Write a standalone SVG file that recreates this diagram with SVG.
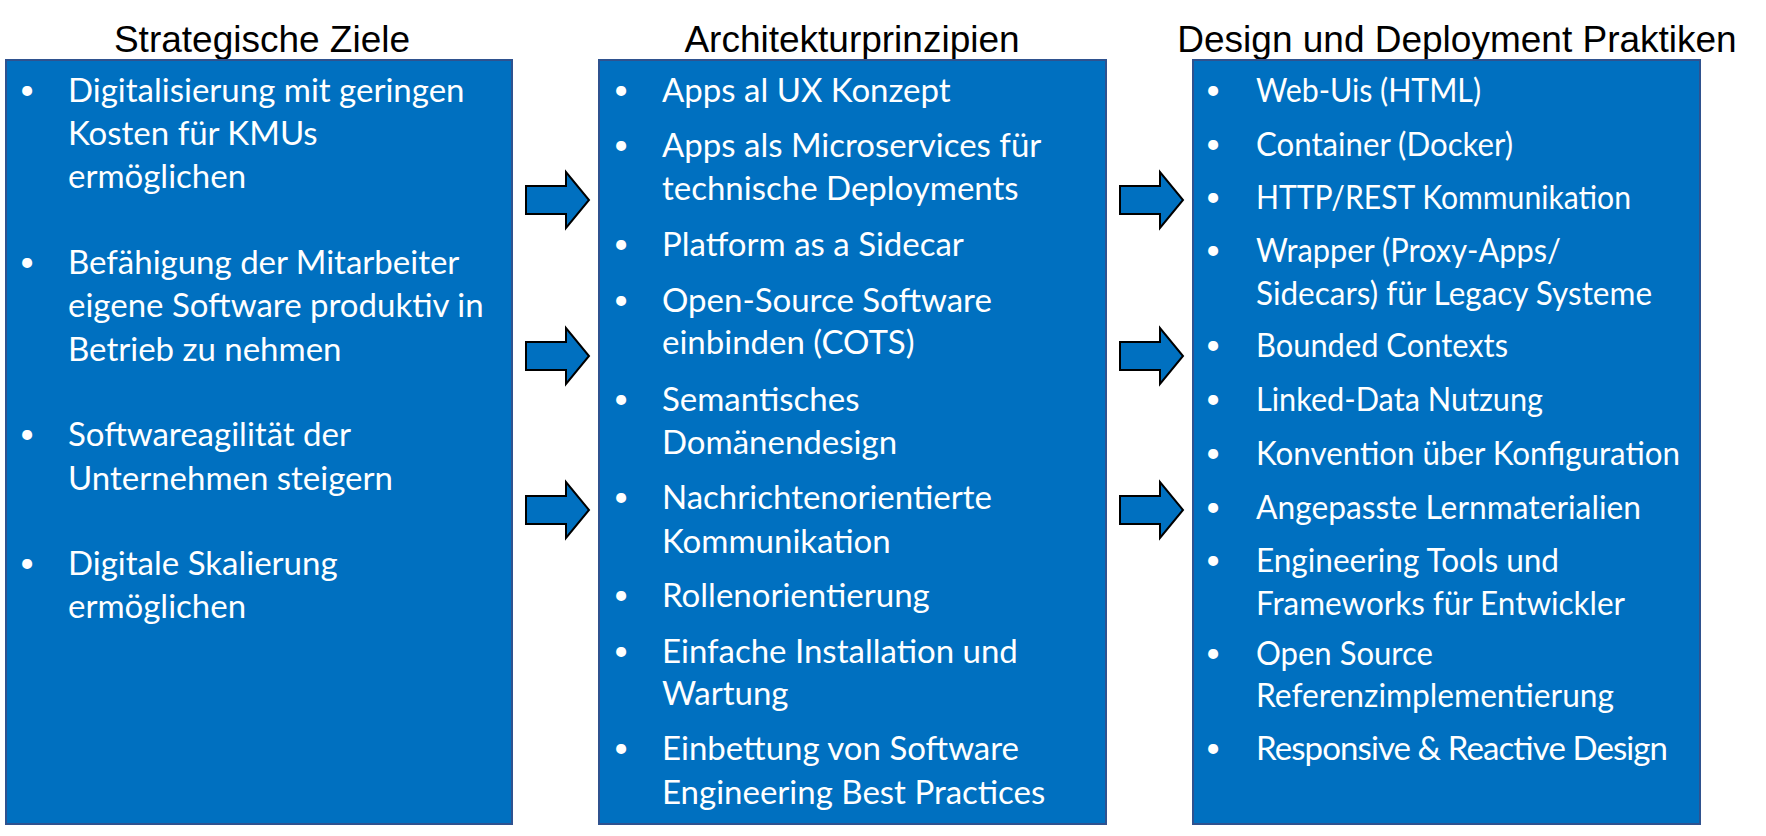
<svg xmlns="http://www.w3.org/2000/svg" width="1766" height="836" viewBox="0 0 1766 836">
<style>
.title{font-family:"Liberation Sans",Arial,sans-serif;font-size:37px;fill:#000;text-anchor:middle}
.box{fill:#0070C0;stroke:#2F528F;stroke-width:2}
.t{font-family:Lato,"Noto Sans",sans-serif;font-size:33px;fill:#fff}
.b{font-size:27px;text-anchor:middle}
.arrow{fill:#0070C0;stroke:#000;stroke-width:2;stroke-linejoin:miter}
</style>
<defs>
<path id="arr" d="M0,-14 L40,-14 L40,-28 L63,0 L40,28 L40,14 L0,14 Z"/>
</defs>
<g id="col1">
<text class="title" x="262" y="52">Strategische Ziele</text>
<rect class="box" x="6" y="60" width="506" height="764"/>
<g class="t">
<text class="b" x="27" y="99">•</text><text x="68" y="102">Digitalisierung mit geringen</text>
<text x="68" y="145">Kosten für KMUs</text>
<text x="68" y="188">ermöglichen</text>
<text class="b" x="27" y="271">•</text><text x="68" y="274">Befähigung der Mitarbeiter</text>
<text x="68" y="317">eigene Software produktiv in</text>
<text x="68" y="361">Betrieb zu nehmen</text>
<text class="b" x="27" y="443">•</text><text x="68" y="446">Softwareagilität der</text>
<text x="68" y="490">Unternehmen steigern</text>
<text class="b" x="27" y="572">•</text><text x="68" y="575">Digitale Skalierung</text>
<text x="68" y="618">ermöglichen</text>
</g>
</g>
<g id="col2">
<text class="title" x="852" y="52">Architekturprinzipien</text>
<rect class="box" x="599" y="60" width="507" height="764"/>
<g class="t">
<text class="b" x="621" y="99">•</text><text x="662" y="102">Apps al UX Konzept</text>
<text class="b" x="621" y="154">•</text><text x="662" y="157">Apps als Microservices für</text>
<text x="662" y="200">technische Deployments</text>
<text class="b" x="621" y="253">•</text><text x="662" y="256">Platform as a Sidecar</text>
<text class="b" x="621" y="309">•</text><text x="662" y="312">Open-Source Software</text>
<text x="662" y="354">einbinden (COTS)</text>
<text class="b" x="621" y="408">•</text><text x="662" y="411">Semantisches</text>
<text x="662" y="454">Domänendesign</text>
<text class="b" x="621" y="506">•</text><text x="662" y="509">Nachrichtenorientierte</text>
<text x="662" y="553">Kommunikation</text>
<text class="b" x="621" y="604">•</text><text x="662" y="607">Rollenorientierung</text>
<text class="b" x="621" y="660">•</text><text x="662" y="663">Einfache Installation und</text>
<text x="662" y="705">Wartung</text>
<text class="b" x="621" y="757">•</text><text x="662" y="760">Einbettung von Software</text>
<text x="662" y="804">Engineering Best Practices</text>
</g>
</g>
<g id="col3">
<text class="title" x="1457" y="52">Design und Deployment Praktiken</text>
<rect class="box" x="1193" y="60" width="507" height="764"/>
<g class="t">
<text class="b" x="1213" y="99">•</text><text x="1256" y="102" textLength="225" lengthAdjust="spacingAndGlyphs">Web-Uis (HTML)</text>
<text class="b" x="1213" y="153">•</text><text x="1256" y="156" textLength="257" lengthAdjust="spacingAndGlyphs">Container (Docker)</text>
<text class="b" x="1213" y="206">•</text><text x="1256" y="209" textLength="375" lengthAdjust="spacingAndGlyphs">HTTP/REST Kommunikation</text>
<text class="b" x="1213" y="259">•</text><text x="1256" y="262" textLength="305" lengthAdjust="spacingAndGlyphs">Wrapper (Proxy-Apps/</text>
<text x="1256" y="305" textLength="396" lengthAdjust="spacingAndGlyphs">Sidecars) für Legacy Systeme</text>
<text class="b" x="1213" y="354">•</text><text x="1256" y="357" textLength="252" lengthAdjust="spacingAndGlyphs">Bounded Contexts</text>
<text class="b" x="1213" y="408">•</text><text x="1256" y="411" textLength="287" lengthAdjust="spacingAndGlyphs">Linked-Data Nutzung</text>
<text class="b" x="1213" y="462">•</text><text x="1256" y="465" textLength="424" lengthAdjust="spacingAndGlyphs">Konvention über Konfiguration</text>
<text class="b" x="1213" y="516">•</text><text x="1256" y="519" textLength="385" lengthAdjust="spacingAndGlyphs">Angepasste Lernmaterialien</text>
<text class="b" x="1213" y="569">•</text><text x="1256" y="572" textLength="303" lengthAdjust="spacingAndGlyphs">Engineering Tools und</text>
<text x="1256" y="615" textLength="369" lengthAdjust="spacingAndGlyphs">Frameworks für Entwickler</text>
<text class="b" x="1213" y="662">•</text><text x="1256" y="665" textLength="177" lengthAdjust="spacingAndGlyphs">Open Source</text>
<text x="1256" y="707" textLength="358" lengthAdjust="spacingAndGlyphs">Referenzimplementierung</text>
<text class="b" x="1213" y="757">•</text><text x="1256" y="760" textLength="412" lengthAdjust="spacing">Responsive &amp; Reactive Design</text>
</g>
</g>
<g id="connectors">
<use href="#arr" class="arrow" x="526" y="200"/>
<use href="#arr" class="arrow" x="526" y="356"/>
<use href="#arr" class="arrow" x="526" y="510"/>
<use href="#arr" class="arrow" x="1120" y="200"/>
<use href="#arr" class="arrow" x="1120" y="356"/>
<use href="#arr" class="arrow" x="1120" y="510"/>
</g>
</svg>
